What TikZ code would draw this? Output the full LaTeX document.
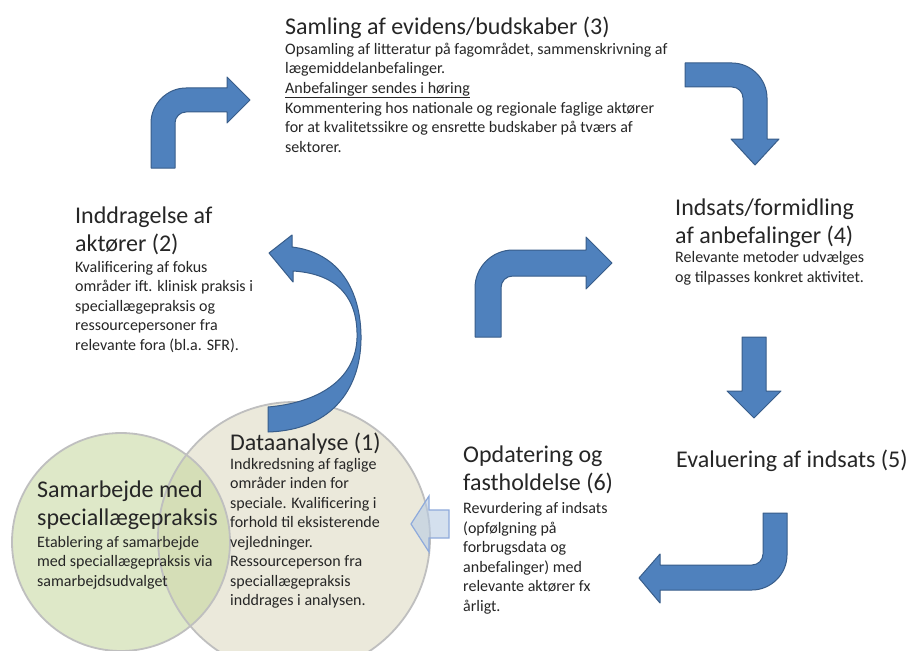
\documentclass[tikz,border=0pt]{standalone}
\usepackage{fontspec}
\setmainfont{Carlito}
\usepackage{xcolor}
\usetikzlibrary{positioning}

\definecolor{arrowblue}{HTML}{4F81BD}
\definecolor{arrowedge}{HTML}{385D8A}
\definecolor{paleblue}{HTML}{B8CCE4}
\definecolor{paleedge}{HTML}{8EAADB}
\definecolor{ringgray}{HTML}{BFBFBF}
\definecolor{sagegreen}{HTML}{C3D69B}
\definecolor{tanbeige}{HTML}{D8D4B8}
\definecolor{inktext}{HTML}{262626}

% multi-line nodes sit on the baseline of their last line
\tikzset{
  head/.style={font=\fontsize{24}{28.5}\selectfont, text=inktext, align=left, anchor=base west, inner sep=0pt},
  body/.style={font=\fontsize{16}{19.5}\selectfont, text=inktext, align=left, anchor=base west, inner sep=0pt},
  blockarrow/.style={fill=arrowblue, draw=arrowedge, line width=1pt, line join=round},
  palearrow/.style={fill=paleblue, fill opacity=0.6, draw=paleedge, line width=1.2pt},
  ring/.style={draw=ringgray, line width=1.8pt}
}

\begin{document}
\begin{tikzpicture}[x=1pt, y=-1pt]
    \useasboundingbox[fill=white] (0,0) rectangle (909,650);

    % the two overlapping circles
    \fill[tanbeige, fill opacity=0.5] (294,538) circle[radius=136];
    \fill[sagegreen, fill opacity=0.55] (121,542) circle[radius=109];
    \draw[ring] (294,538) circle[radius=136];
    \draw[ring] (121,542) circle[radius=109];

    % bent arrows round the cycle
    \draw[blockarrow] (151,168) -- (151,123) .. controls (151,104) and (167,88) .. (186,88) -- (227,88) -- (227,77) -- (250,100) -- (227,123) -- (227,112) -- (186,112) .. controls (180,112) and (175,117) .. (175,123) -- (175,168) -- cycle;
    \draw[blockarrow] (685,63) -- (732,63) .. controls (751,63) and (767,79) .. (767,98) -- (767,139) -- (779,139) -- (755,165) -- (731,139) -- (743,139) -- (743,98) .. controls (743,92) and (738,87) .. (732,87) -- (685,87) -- cycle;
    \draw[blockarrow] (475,337) -- (475,288) .. controls (475,267) and (492,250) .. (513,250) -- (586,250) -- (586,237) -- (612,263) -- (586,289) -- (586,276) -- (513,276) .. controls (506,276) and (501,281) .. (501,288) -- (501,337) -- cycle;
    \draw[blockarrow] (742,337) -- (766,337) -- (766,391) -- (781,391) -- (754,418) -- (727,391) -- (742,391) -- cycle;
    \draw[blockarrow] (763,513) -- (787,513) -- (787,555) .. controls (787,574) and (771,590) .. (752,590) -- (660,590) -- (660,603) -- (639,578) -- (660,554) -- (660,565) -- (752,565) .. controls (758,565) and (763,560) .. (763,554) -- cycle;

    % curved arrow from the analysis up to the actors
    \draw[blockarrow] (268,432) .. controls (335,430) and (362,385) .. (361,335) .. controls (360,285) and (335,252) .. (292,247) -- (292,235) -- (269,253) -- (293,282) -- (293,271) .. controls (340,274) and (358,300) .. (357,338) .. controls (356,375) and (325,402) .. (268,407) -- cycle;

    % pale arrow into the analysis circle
    \draw[palearrow] (449,510) -- (449,538) -- (429,538) -- (429,552) -- (411,524) -- (429,496) -- (429,510) -- cycle;

    % step texts
    \node[head] (evidens) at (285,35) {Samling af evidens/budskaber (3)};
    \node[body] (evidenstxt) at (285,152) {Opsamling af litteratur på fagområdet, sammenskrivning af\\lægemiddelanbefalinger.\\\underline{Anbefalinger sendes i høring}\\Kommentering hos nationale og regionale faglige aktører\\for at kvalitetssikre og ensrette budskaber på tværs af\\sektorer.};

    \node[head] (aktorer) at (75,251.5) {Inddragelse af\\aktører (2)};
    \node[body] (aktorertxt) at (75,350) {Kvalificering af fokus\\områder ift. klinisk praksis i\\speciallægepraksis og\\ressourcepersoner fra\\relevante fora (bl.a. SFR).};

    \node[head] (indsats) at (675,243.5) {Indsats/formidling\\af anbefalinger (4)};
    \node[body] (indsatstxt) at (675,282) {Relevante metoder udvælges\\og tilpasses konkret aktivitet.};

    \node[head] (evaluering) at (676,467) {Evaluering af indsats (5)};

    \node[head] (opdatering) at (463,490.5) {Opdatering og\\fastholdelse (6)};
    \node[body] (opdateringtxt) at (463,611) {Revurdering af indsats\\(opfølgning på\\forbrugsdata og\\anbefalinger) med\\relevante aktører fx\\årligt.};

    \node[head] (data) at (230,450) {Dataanalyse (1)};
    \node[body] (datatxt) at (230,605.5) {Indkredsning af faglige\\områder inden for\\speciale. Kvalificering i\\forhold til eksisterende\\vejledninger.\\Ressourceperson fra\\speciallægepraksis\\inddrages i analysen.};

    \node[head] (samarbejde) at (37,525.5) {Samarbejde med\\speciallægepraksis};
    \node[body] (samarbejdetxt) at (37,586) {Etablering af samarbejde\\med speciallægepraksis via\\samarbejdsudvalget};
\end{tikzpicture}
\end{document}
